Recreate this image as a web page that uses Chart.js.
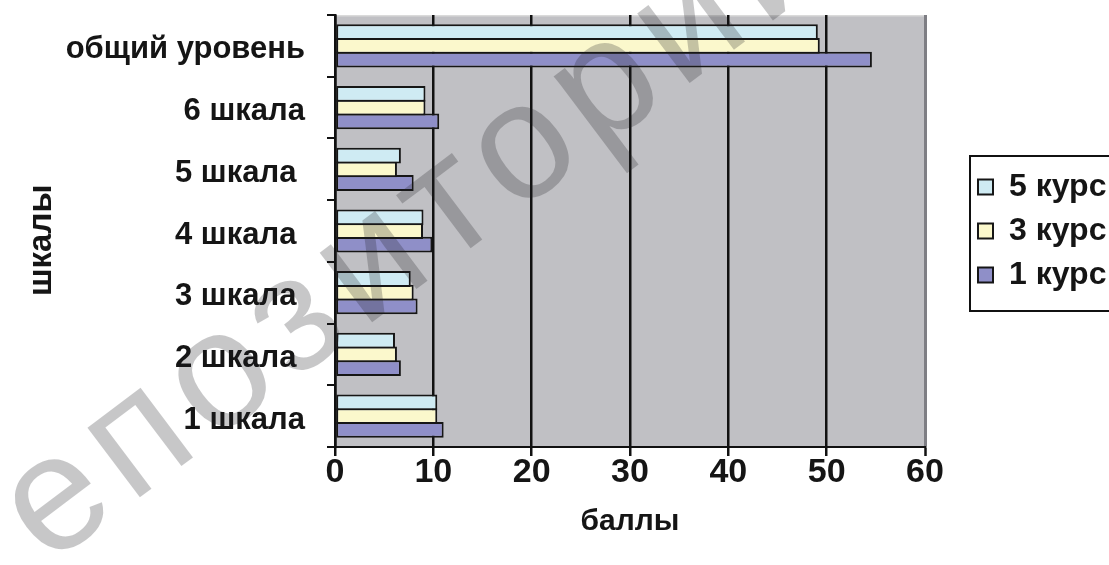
<!DOCTYPE html>
<html>
<head>
<meta charset="utf-8">
<script src="https://cdn.jsdelivr.net/npm/chart.js@4/dist/chart.umd.min.js"></script>
<style>
  html, body { margin: 0; padding: 0; background: #ffffff; }
  canvas { display: block; }
</style>
</head>
<body>
<canvas id="chart" width="1109" height="565"></canvas>
<script>
// Categories (top to bottom) and the three series, in points
const categories = ['общий уровень', '6 шкала', '5 шкала ', '4 шкала ', '3 шкала ', '2 шкала ', '1 шкала'];
const seriesNames = ['5 курс', '3 курс', '1 курс'];
const kurs5 = [49.1, 9.2, 6.7, 9.0, 7.7, 6.1, 10.4];
const kurs3 = [49.3, 9.2, 6.3, 8.95, 8.0, 6.3, 10.4];
const kurs1 = [54.6, 10.6, 8.0, 9.9, 8.4, 6.7, 11.05];
const xTickValues = [0, 10, 20, 30, 40, 50, 60];
const xAxisTitle = 'баллы';
const yAxisTitle = 'шкалы  ';
const watermarkText = 'Репозиторий';

const FAMILY = '"Liberation Sans", Arial, Helvetica, sans-serif';
const INK = '#151515';
const W = 1109, H = 565;
const PLOT = { left: 335, right: 925, top: 15, bottom: 447 };

const legendFontSize = 32;
const legendBox = 15;
const legendPad = 12;
const swatchLeft = 978;

// width the legend box will take, so the plot area ends where intended
const measure = document.createElement('canvas').getContext('2d');
measure.font = `bold ${legendFontSize}px ${FAMILY}`;
const legendTextW = Math.max(...seriesNames.map(s => measure.measureText(s).width));
const legendW = legendPad + legendBox + legendFontSize / 2 + legendTextW + 10;
const gapBeforeLegend = swatchLeft - legendPad - PLOT.right;
const rightPad = W - PLOT.right - gapBeforeLegend - legendW;

const colors = ['#CFEBF3', '#FBF8CC', '#8F8FC8'];
const values = [kurs5, kurs3, kurs1];

const plotBackground = {
  id: 'plotBackground',
  beforeDraw(chart) {
    const { ctx, chartArea: a } = chart;
    ctx.save();
    ctx.fillStyle = '#C0C0C4';
    ctx.fillRect(a.left, a.top, a.right - a.left, a.bottom - a.top);
    ctx.strokeStyle = '#DADADA';
    ctx.lineWidth = 1.5;
    ctx.beginPath();
    ctx.moveTo(a.left, a.top + 0.75);
    ctx.lineTo(a.right, a.top + 0.75);
    ctx.stroke();
    ctx.restore();
  }
};

const legendFrame = {
  id: 'legendFrame',
  afterDraw(chart) {
    const hb = chart.legend && chart.legend.legendHitBoxes;
    if (!hb || !hb.length) return;
    const { ctx } = chart;
    const last = hb[hb.length - 1];
    const left = hb[0].left - 8;
    const top = hb[0].top - 15;
    const bottom = last.top + last.height + 20;
    ctx.save();
    ctx.strokeStyle = '#111';
    ctx.lineWidth = 2;
    ctx.strokeRect(left, top, W + 20 - left, bottom - top);
    ctx.restore();
  }
};

// diagonal watermark drawn over the whole chart
const watermark = {
  id: 'watermark',
  afterDraw(chart) {
    const { ctx } = chart;
    const size = 165;
    const spacing = 12;
    ctx.save();
    ctx.font = `${size}px ${FAMILY}`;
    ctx.fillStyle = 'rgba(30,30,35,0.25)';
    ctx.textBaseline = 'alphabetic';
    ctx.textAlign = 'left';
    // widths without extra spacing, then add the spacing by hand
    const before = ctx.measureText('Репозит').width;
    const o = ctx.measureText('о').width;
    const hasSpacing = 'letterSpacing' in ctx;
    if (hasSpacing) ctx.letterSpacing = spacing + 'px';
    const lead = before + (hasSpacing ? 7 * spacing : 0) + o / 2;
    ctx.translate(527, 152);
    ctx.rotate(-37 * Math.PI / 180);
    ctx.fillText(watermarkText, -lead, 0.26 * size);
    ctx.restore();
  }
};

new Chart(document.getElementById('chart'), {
  type: 'bar',
  data: {
    labels: categories,
    datasets: seriesNames.map((name, i) => ({
      label: name,
      data: values[i],
      backgroundColor: colors[i],
      borderColor: '#161616',
      borderWidth: 2,
      borderSkipped: false,
      categoryPercentage: 0.667,
      barPercentage: 1.15
    }))
  },
  options: {
    indexAxis: 'y',
    responsive: false,
    animation: false,
    devicePixelRatio: 1,
    layout: { padding: { left: 0, top: PLOT.top, right: rightPad, bottom: 0 } },
    plugins: {
      legend: {
        position: 'right',
        fullSize: false,
        align: 'center',
        labels: {
          boxWidth: legendBox,
          boxHeight: legendBox,
          padding: legendPad,
          color: INK,
          font: { family: FAMILY, size: legendFontSize, weight: 'bold' }
        }
      },
      tooltip: { enabled: false }
    },
    scales: {
      x: {
        type: 'linear',
        min: 0,
        max: 60,
        afterBuildTicks(scale) { scale.ticks = xTickValues.map(v => ({ value: v })); },
        afterFit(scale) {
          scale.height = H - PLOT.bottom;
          scale.paddingLeft = 0;
          scale.paddingRight = 0;
        },
        grid: {
          color: ctx => (ctx.tick && ctx.tick.value === 60 ? '#7E7E84' : '#111'),
          tickColor: '#111',
          lineWidth: ctx => (ctx.tick && ctx.tick.value === 60 ? 3 : 2.5),
          tickWidth: 2.5,
          tickLength: 9,
          drawTicks: true
        },
        border: { display: true, color: '#111', width: 2 },
        ticks: {
          color: INK,
          padding: -4,
          maxRotation: 0,
          font: { family: FAMILY, size: 34, weight: 'bold' }
        },
        title: {
          display: true,
          text: xAxisTitle,
          color: INK,
          font: { family: FAMILY, size: 30, weight: 'bold' },
          padding: { top: 0, bottom: 25 }
        }
      },
      y: {
        type: 'category',
        offset: true,
        afterFit(scale) {
          scale.width = PLOT.left;
          scale.paddingTop = 0;
          scale.paddingBottom = 0;
        },
        grid: {
          offset: true,
          drawOnChartArea: false,
          drawTicks: true,
          tickLength: 8,
          color: '#111',
          lineWidth: 2
        },
        border: { display: true, color: '#111', width: 2.5 },
        ticks: {
          color: INK,
          padding: 22,
          labelOffset: 4,
          autoSkip: false,
          font: { family: FAMILY, size: 31, weight: 'bold' }
        },
        title: {
          display: true,
          text: yAxisTitle,
          color: INK,
          font: { family: FAMILY, size: 33, weight: 'bold' },
          padding: { top: 22, bottom: 0 }
        }
      },
      gap: {
        type: 'linear',
        position: 'right',
        display: true,
        grid: { display: false },
        border: { display: false },
        ticks: { display: false },
        afterFit(scale) {
          scale.width = gapBeforeLegend;
          scale.paddingTop = 0;
          scale.paddingBottom = 0;
        }
      }
    }
  },
  plugins: [plotBackground, legendFrame, watermark]
});
</script>
</body>
</html>
